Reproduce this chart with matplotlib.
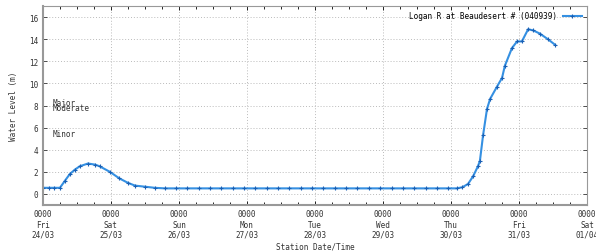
import matplotlib
matplotlib.use("Agg")
import matplotlib.pyplot as plt
from matplotlib.ticker import MultipleLocator

# hours since 24/03 0000
hours = [0, 2, 4, 6, 7.8, 9.5, 11.3, 13, 15.9, 18.4, 20, 23.6, 27, 30, 32.5, 36, 39.5,
         43, 47, 51, 55, 59, 63, 67, 71, 75, 79, 83, 87, 91, 95, 99, 103, 107, 111,
         115, 119, 123, 127, 131, 135, 139, 143, 146,
         148, 150, 151.8, 153.5, 154.2, 155.3, 156.7, 157.8, 160.2, 162, 163, 165.5,
         167.3, 169, 171.2, 173, 175.4, 178.2, 180.7]
level = [0.55, 0.55, 0.55, 0.55, 1.2, 1.8, 2.2, 2.5, 2.75, 2.65, 2.5, 2.0, 1.4, 1.0, 0.75, 0.65, 0.55,
         0.5, 0.5, 0.5, 0.5, 0.5, 0.5, 0.5, 0.5, 0.5, 0.5, 0.5, 0.5, 0.5, 0.5, 0.5, 0.5, 0.5, 0.5,
         0.5, 0.5, 0.5, 0.5, 0.5, 0.5, 0.5, 0.5, 0.5,
         0.6, 0.9, 1.6, 2.5, 3.0, 5.3, 7.7, 8.6, 9.7, 10.5, 11.6, 13.2,
         13.8, 13.8, 14.9, 14.8, 14.5, 14.0, 13.5]

day_labels = ["0000\nFri\n24/03", "0000\nSat\n25/03", "0000\nSun\n26/03", "0000\nMon\n27/03",
              "0000\nTue\n28/03", "0000\nWed\n29/03", "0000\nThu\n30/03", "0000\nFri\n31/03",
              "0000\nSat\n01/04"]
flood_names = ["Major", "Moderate", "Minor"]
flood_y = [8.3, 7.8, 5.5]
series_name = "Logan R at Beaudesert # (040939)"

mono = "DejaVu Sans Mono"
fig = plt.figure(figsize=(5.96, 2.53), dpi=100)
ax = fig.add_axes([0.072, 0.186, 0.913, 0.786])

days = [h / 24 for h in hours]
ax.plot(days, level, color="#3590e2", lw=1.5, marker="+", ms=3, mew=0.8,
        mec="#1a60b5", label=series_name)

ax.set_xlim(0, 8)
ax.set_ylim(-1, 17)
ax.set_xticks(range(len(day_labels)))
ax.set_xticklabels(day_labels, fontsize=5.5, family=mono, color="#333333", linespacing=1.2)
ax.xaxis.set_minor_locator(MultipleLocator(0.25))
ax.yaxis.set_major_locator(MultipleLocator(2))
ax.tick_params(axis="y", labelsize=5.5, colors="#333333", direction="in", length=3, width=0.6)
ax.tick_params(axis="x", which="major", direction="in", length=3, width=0.6, pad=3)
ax.tick_params(axis="x", which="minor", direction="in", length=2, width=0.6)
for lab in ax.get_yticklabels():
    lab.set_family(mono)
ax.tick_params(axis="both", which="both", top=True, right=True)

ax.grid(True, which="major", color="#bbbbbb", linestyle=(0, (1, 2)), lw=0.7)
for s in ax.spines.values():
    s.set_color("#999999")
    s.set_linewidth(0.8)
ax.spines["left"].set_linewidth(1.5)
ax.spines["bottom"].set_linewidth(1.5)

for name, y in zip(flood_names, flood_y):
    ax.text(0.15, y, name, fontsize=5.5, family=mono, color="#333333", va="center")

ax.set_ylabel("Water Level (m)", fontsize=5.5, family=mono, color="#333333", labelpad=8)
ax.set_xlabel("Station Date/Time", fontsize=5.5, family=mono, color="#333333", labelpad=2)

leg = ax.legend(loc="upper right", frameon=False, handlelength=2.5,
                borderaxespad=0.3, markerfirst=False, prop={"family": mono, "size": 5.5})

fig.savefig("out.png", dpi=100, facecolor="white")
